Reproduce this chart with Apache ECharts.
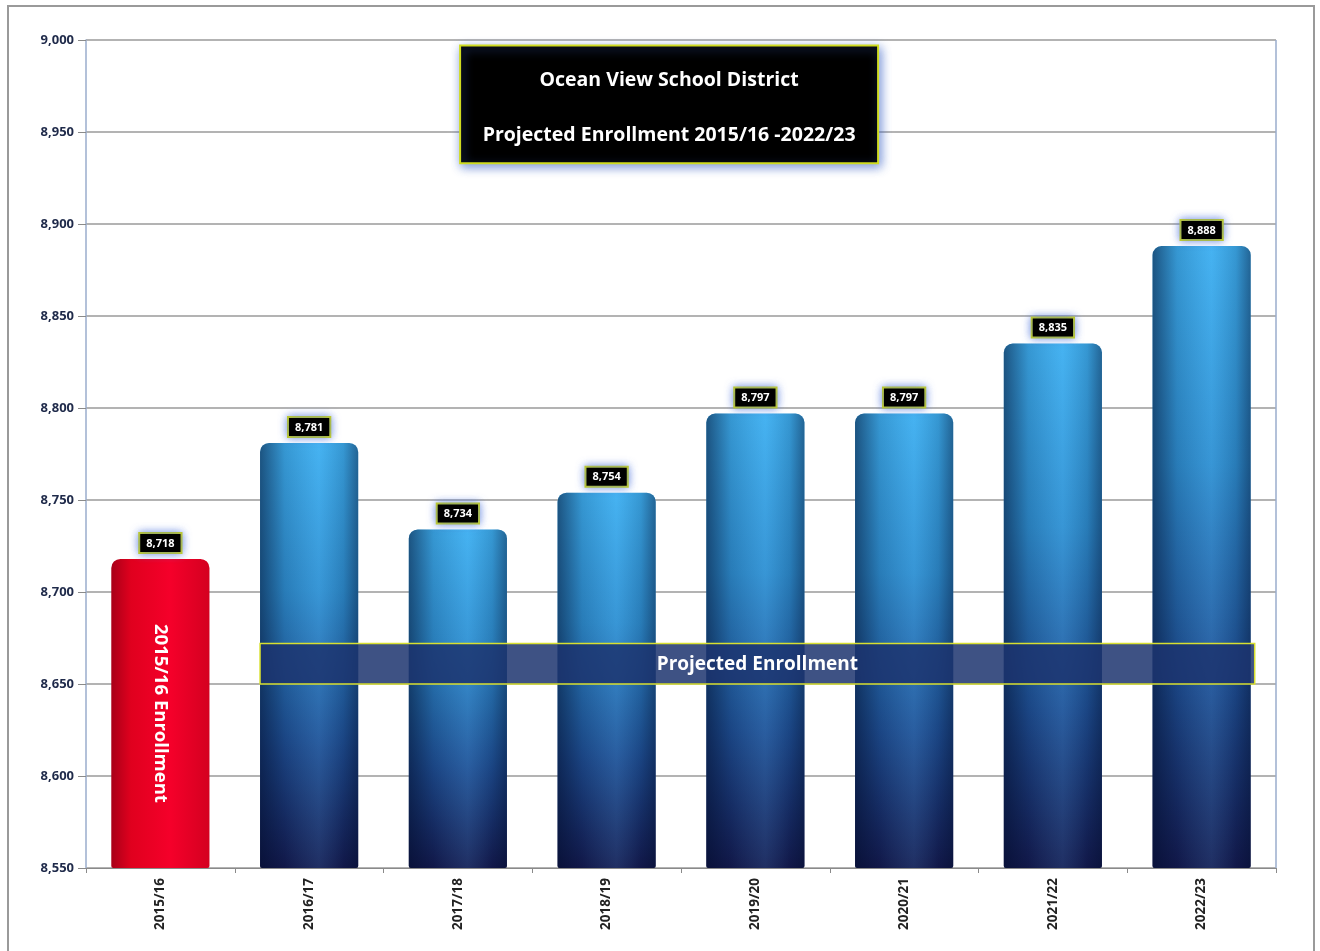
<!DOCTYPE html>
<html><head><meta charset="utf-8">
<script src="https://cdn.jsdelivr.net/npm/echarts@6/dist/echarts.min.js"></script>
<style>html,body{margin:0;padding:0;background:#fff}#c{width:1320px;height:951px}</style>
</head><body><div id="c"></div>
<script>
const categories = ['2015/16','2016/17','2017/18','2018/19','2019/20','2020/21','2021/22','2022/23'];
const enrollment = [8718, 8781, 8734, 8754, 8797, 8797, 8835, 8888];
const yTicks = {min: 8550, max: 9000, interval: 50};
const titleLines = ['Ocean View School District', 'Projected Enrollment 2015/16 -2022/23'];
const bandRange = [8650, 8672];
const bandText = 'Projected Enrollment';
const actualText = '2015/16 Enrollment';

const FONT = '"Open Sans", "Noto Sans", sans-serif';
const chart = echarts.init(document.getElementById('c'));

const blueGrad = new echarts.graphic.LinearGradient(0,0,0,1,[
  {offset:0, color:'#3fb0f0'},{offset:0.35,color:'#2f8fd0'},{offset:0.7,color:'#1f4f93'},{offset:1,color:'#141a4e'}]);
const redGrad = new echarts.graphic.LinearGradient(0,0,1,0,[
  {offset:0,color:'#a80018'},{offset:0.2,color:'#e0001e'},{offset:0.6,color:'#f5002a'},{offset:1,color:'#d40020'}]);
const shadeGrad = new echarts.graphic.LinearGradient(0,0,1,0,[
  {offset:0,color:'rgba(0,10,40,0.55)'},{offset:0.25,color:'rgba(0,10,40,0.15)'},{offset:0.6,color:'rgba(120,200,255,0.12)'},{offset:0.85,color:'rgba(0,10,40,0.15)'},{offset:1,color:'rgba(0,10,40,0.45)'}]);

const mainData = enrollment.map((v,i)=> i===0 ? {value:v, itemStyle:{color:redGrad}} : {value:v, itemStyle:{color:blueGrad}});
const shadeData = enrollment.map((v,i)=> i===0 ? {value:v, itemStyle:{color:'rgba(0,0,0,0)'}, label:{show:true}} : {value:v});

chart.setOption({
  animation:false,
  grid:{left:86, right:44, top:40, bottom:83},
  xAxis:{type:'category', data:categories,
    axisLine:{lineStyle:{color:'#8a8a8a'}},
    axisTick:{show:true, alignWithLabel:false, length:5, lineStyle:{color:'#8a8a8a'}},
    axisLabel:{rotate:90, fontFamily:FONT, fontWeight:'bold', fontSize:13.5, color:'#222', margin:10}},
  yAxis:{type:'value', min:yTicks.min, max:yTicks.max, interval:yTicks.interval,
    axisLine:{show:true, lineStyle:{color:'#9aaccc', width:1.5}},
    axisTick:{show:true, length:8, lineStyle:{color:'#8a8a8a'}},
    splitLine:{lineStyle:{color:'#9a9a9a', width:1.5}},
    axisLabel:{fontFamily:FONT, fontWeight:'bold', fontSize:13, color:'#1f2a4a', margin:12,
      formatter:v=>v.toLocaleString('en-US')}},
  series:[
    {type:'bar', data:mainData, barWidth:'66%', z:2,
      itemStyle:{borderRadius:[9,9,2,2]},
      label:{show:true, position:'top', distance:7, formatter:p=>p.value.toLocaleString('en-US'),
        color:'#fff', fontFamily:FONT, fontWeight:'bold', fontSize:11,
        backgroundColor:'#000', borderColor:'#c8d21e', borderWidth:2, padding:[4,6,3,6],
        shadowColor:'rgba(70,110,220,0.7)', shadowBlur:8}},
    {type:'bar', data:shadeData, barWidth:'66%', barGap:'-100%', z:3, silent:true,
      itemStyle:{color:shadeGrad, borderRadius:[9,9,2,2]},
      label:{show:false, position:'inside', rotate:-90, formatter:actualText,
        color:'#fff', fontFamily:FONT, fontWeight:'bold', fontSize:18.5}}
  ]
});

function drawOverlays(){
  const g = chart.getModel().getComponent('grid').coordinateSystem.getRect();
  const xA = chart.convertToPixel({xAxisIndex:0}, categories[1]);
  const xB = chart.convertToPixel({xAxisIndex:0}, categories[categories.length-1]);
  const bandW = (g.width/categories.length)*0.66;
  const yTop = chart.convertToPixel({yAxisIndex:0}, bandRange[1]);
  const yBot = chart.convertToPixel({yAxisIndex:0}, bandRange[0]);
  const x0 = xA - bandW/2, x1 = xB + bandW/2 + 4;
  const cx = g.x + g.width*0.49;
  const tY0 = chart.convertToPixel({yAxisIndex:0}, 8997);
  const tY1 = chart.convertToPixel({yAxisIndex:0}, 8933);
  chart.setOption({graphic:[
    {type:'rect', shape:{x:8, y:6, width:1306, height:960}, style:{fill:'none', stroke:'#9a9a9a', lineWidth:2}, z:0, silent:true},
    {type:'line', shape:{x1:g.x+g.width, y1:g.y, x2:g.x+g.width, y2:g.y+g.height}, style:{stroke:'#9aaccc', lineWidth:1.5}, z:1},
    {type:'rect', shape:{x:x0, y:yTop, width:x1-x0, height:yBot-yTop},
      style:{fill:'rgba(28,52,110,0.85)', stroke:'#d8e030', lineWidth:1.5}, z:10},
    {type:'text', x:(x0+x1)/2, y:(yTop+yBot)/2+1, style:{text:bandText, fill:'#fff', font:'bold 19px '+FONT, align:'center', verticalAlign:'middle'}, z:11},
    {type:'rect', shape:{x:cx-209, y:tY0, width:418, height:tY1-tY0},
      style:{fill:'#000', stroke:'#d0dc20', lineWidth:2, shadowColor:'rgba(60,100,200,0.7)', shadowBlur:10, shadowOffsetX:2, shadowOffsetY:3}, z:10},
    {type:'text', x:cx, y:tY0+35, style:{text:titleLines[0], fill:'#fff', font:'bold 19.5px '+FONT, align:'center', verticalAlign:'middle'}, z:11},
    {type:'text', x:cx, y:tY0+90, style:{text:titleLines[1], fill:'#fff', font:'bold 19.5px '+FONT, align:'center', verticalAlign:'middle'}, z:11}
  ]});
}
drawOverlays();
</script></body></html>
